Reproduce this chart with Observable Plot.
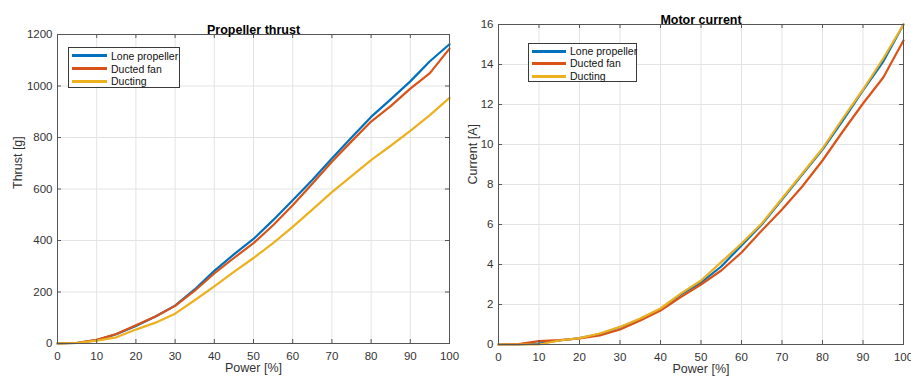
<!DOCTYPE html>
<html>
<head>
<meta charset="utf-8">
<script src="https://cdn.jsdelivr.net/npm/d3@7"></script>
<script src="https://cdn.jsdelivr.net/npm/@observablehq/plot@0.6"></script>
<style>
  html, body { margin: 0; padding: 0; background: #fff; overflow: hidden; }
  #wrap { position: relative; width: 911px; height: 378px; font-family: "Liberation Sans", Arial, sans-serif; overflow: hidden; }
  .panel { position: absolute; top: 0; overflow: visible; }
  .legend { position: absolute; background: #fff; border: 1px solid #3a3a3a; box-sizing: border-box; font-size: 10.5px; color: #111; }
  .row { position: absolute; left: 0; height: 12px; display: flex; align-items: center; white-space: nowrap; }
  .swatch { display: inline-block; height: 3px; margin-right: 4px; }
</style>
</head>
<body>
<div id="wrap"></div>
<script>
// ---- data ----
const power = [0, 5, 10, 15, 20, 25, 30, 35, 40, 45, 50, 55, 60, 65, 70, 75, 80, 85, 90, 95, 100];
const seriesNames = ["Lone propeller", "Ducted fan", "Ducting"];
const seriesColors = ["#0072BD", "#D95319", "#EDB120"];

const thrustLone    = [0, 2, 13, 36, 68, 105, 147, 210, 282, 346, 406, 479, 556, 635, 718, 800, 880, 948, 1018, 1096, 1162];
const thrustDucted  = [0, 3, 14, 37, 71, 105, 146, 205, 272, 332, 390, 459, 537, 620, 706, 785, 862, 922, 990, 1050, 1145];
const thrustDucting = [0, 2, 11, 24, 54, 81, 116, 168, 222, 278, 332, 390, 453, 520, 588, 650, 712, 768, 826, 887, 954];

const currentLone    = [0, 0, 0.05, 0.2, 0.32, 0.52, 0.86, 1.27, 1.78, 2.5, 3.1, 3.9, 4.95, 6.0, 7.25, 8.5, 9.75, 11.2, 12.7, 14.15, 16.0];
const currentDucted  = [0, 0.02, 0.17, 0.22, 0.3, 0.45, 0.75, 1.2, 1.7, 2.37, 3.0, 3.7, 4.6, 5.7, 6.75, 7.9, 9.2, 10.65, 12.05, 13.35, 15.2];
const currentDucting = [0, 0, 0, 0.2, 0.32, 0.55, 0.88, 1.3, 1.8, 2.54, 3.2, 4.12, 5.05, 6.05, 7.3, 8.55, 9.8, 11.3, 12.75, 14.3, 16.0];

const xTicks = [0, 10, 20, 30, 40, 50, 60, 70, 80, 90, 100];
const thrustTicks = [0, 200, 400, 600, 800, 1000, 1200];
const currentTicks = [0, 2, 4, 6, 8, 10, 12, 14, 16];

function longTable(arrays) {
  const rows = [];
  arrays.forEach((arr, i) => arr.forEach((v, j) => rows.push({series: seriesNames[i], p: power[j], v})));
  return rows;
}

const axisColor = "#555";
const textColor = "#333";
const gridColor = "#e3e3e3";

function panel({data, yDomain, yTicks, title, ylabel, width, marginLeft, marginRight, marginTop, marginBottom, ylabelDx, height = 378}) {
  const plotH = height - marginTop - marginBottom;
  const plotW = width - marginLeft - marginRight;
  const tl = 4;
  return Plot.plot({
    width, height, marginLeft, marginRight, marginTop, marginBottom,
    style: {fontFamily: '"Liberation Sans", Arial, sans-serif', fontSize: "11.5px", color: textColor, background: "transparent", overflow: "visible"},
    x: {domain: [0, 100]},
    y: {domain: yDomain},
    color: {domain: seriesNames, range: seriesColors},
    marks: [
      Plot.gridX(xTicks, {stroke: gridColor, strokeOpacity: 1}),
      Plot.gridY(yTicks, {stroke: gridColor, strokeOpacity: 1}),
      Plot.line(data, {x: "p", y: "v", z: "series", stroke: "series", strokeWidth: 2.2}),
      Plot.frame({stroke: axisColor, strokeWidth: 1}),
      Plot.tickX(xTicks, {x: d => d, insetTop: plotH - tl, stroke: axisColor}),
      Plot.tickX(xTicks, {x: d => d, insetBottom: plotH - tl, stroke: axisColor}),
      Plot.tickY(yTicks, {y: d => d, insetRight: plotW - tl, stroke: axisColor}),
      Plot.tickY(yTicks, {y: d => d, insetLeft: plotW - tl, stroke: axisColor}),
      Plot.axisX(xTicks, {tickSize: 0, tickPadding: 8, label: null, fontSize: 11.5, fill: textColor, tickFormat: d => String(d)}),
      Plot.axisY(yTicks, {tickSize: 0, tickPadding: 5, label: null, fontSize: 11.5, fill: textColor, tickFormat: d => String(d)}),
      Plot.text([title], {frameAnchor: "top", dy: -9, fontWeight: "bold", fontSize: 12.5, fill: "#000"}),
      Plot.text(["Power [%]"], {frameAnchor: "bottom", dy: 28, fontSize: 12.5, fill: textColor}),
      Plot.text([ylabel], {frameAnchor: "left", dx: ylabelDx, rotate: -90, fontSize: 12.5, fill: textColor})
    ]
  });
}

const wrap = document.getElementById("wrap");

const left = panel({
  data: longTable([thrustLone, thrustDucted, thrustDucting]),
  yDomain: [0, 1200], yTicks: thrustTicks, title: "Propeller thrust", ylabel: "Thrust [g]",
  width: 455, marginLeft: 57, marginRight: 6, marginTop: 34, marginBottom: 35, ylabelDx: -40
});
left.classList.add("panel"); left.style.left = "0px";

const right = panel({
  data: longTable([currentLone, currentDucted, currentDucting]),
  yDomain: [0, 16], yTicks: currentTicks, title: "Motor current", ylabel: "Current [A]",
  width: 456, marginLeft: 43, marginRight: 8, marginTop: 24, marginBottom: 34, ylabelDx: -26
});
right.classList.add("panel"); right.style.left = "455px";
wrap.appendChild(right);
wrap.appendChild(left);

function legend(x, y, w, h, rowTops, swatchX, swatchW) {
  const box = document.createElement("div");
  box.className = "legend";
  Object.assign(box.style, {left: x + "px", top: y + "px", width: w + "px", height: h + "px"});
  seriesNames.forEach((name, i) => {
    const row = document.createElement("div");
    row.className = "row";
    row.style.top = rowTops[i] + "px";
    row.style.left = swatchX + "px";
    const sw = document.createElement("span");
    sw.className = "swatch";
    sw.style.width = swatchW + "px";
    sw.style.background = seriesColors[i];
    row.appendChild(sw);
    row.appendChild(document.createTextNode(name));
    box.appendChild(row);
  });
  wrap.appendChild(box);
}
legend(68, 47, 112, 41, [1.5, 14.5, 27], 3, 35);
legend(528, 43, 109, 39, [1, 13, 26], 3, 34);
</script>
</body>
</html>
